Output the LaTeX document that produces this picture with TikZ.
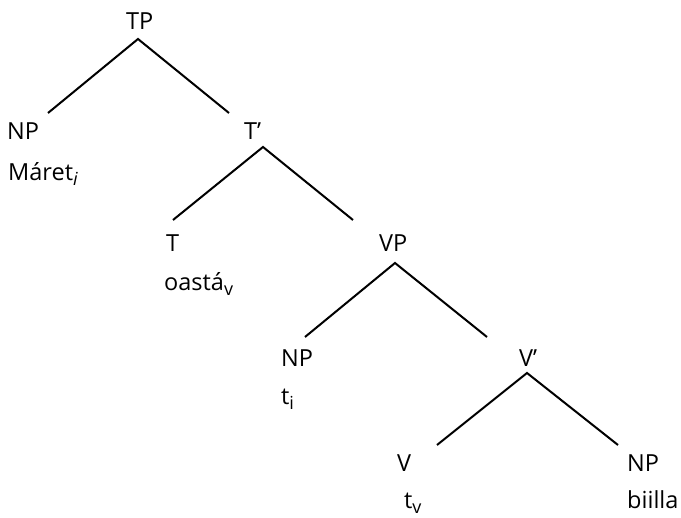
\documentclass[tikz,border=0pt]{standalone}
\usepackage{fontspec}
\setmainfont{Open Sans}
\newcommand\lowsub[1]{\raisebox{-5pt}{\fontsize{18}{18}\selectfont #1}}
\begin{document}
\begin{tikzpicture}[x=1pt,y=-1pt,
  lab/.style={anchor=base west,inner sep=0pt,font=\fontsize{23.5}{23.5}\selectfont},
  edge/.style={line width=2pt,line cap=butt}]
\useasboundingbox (0,0) rectangle (681,518);
% labels
\node[lab] (TP) at (126,30) {TP};
\node[lab] (NPa) at (7,140) {NP};
\node[lab] (Maret) at (8,181) {Máret\lowsub{\itshape i}};
\node[lab] (Tbar) at (244,140) {T’};
\node[lab] (T) at (166,252) {T};
\node[lab] (oasta) at (164,291) {oastá\lowsub{v}};
\node[lab] (VP) at (379,252) {VP};
\node[lab] (NPb) at (281,367) {NP};
\node[lab] (ti) at (281,405) {t\lowsub{i}};
\node[lab] (Vbar) at (519,367) {V’};
\node[lab] (V) at (397,472) {V};
\node[lab] (tv) at (404,509) {t\lowsub{v}};
\node[lab] (NPc) at (627,472) {NP};
\node[lab] (biilla) at (627,509) {biilla};
% connector end points
\coordinate (TPb) at (138,39);
\coordinate (NPat) at (48,113);
\coordinate (Tbart) at (229,113);
\coordinate (Tbarb) at (263,147);
\coordinate (Tt) at (173,220);
\coordinate (VPt) at (353,220);
\coordinate (VPb) at (395,263);
\coordinate (NPbt) at (305,337);
\coordinate (Vbart) at (487,337);
\coordinate (Vbarb) at (527,373);
\coordinate (Vt) at (437,445);
\coordinate (NPct) at (618,445);
% connectors
\draw[edge] (NPat) -- (TPb) -- (Tbart);
\draw[edge] (Tt) -- (Tbarb) -- (VPt);
\draw[edge] (NPbt) -- (VPb) -- (Vbart);
\draw[edge] (Vt) -- (Vbarb) -- (NPct);
\end{tikzpicture}
\end{document}
